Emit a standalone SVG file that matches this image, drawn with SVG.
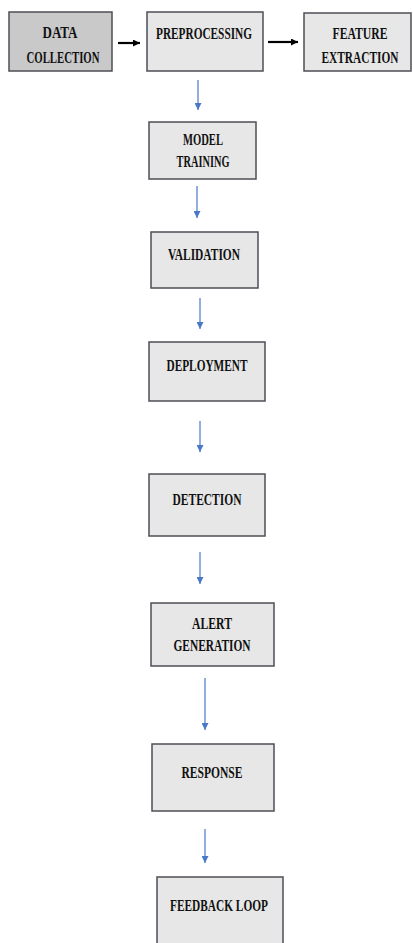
<svg xmlns="http://www.w3.org/2000/svg" width="413" height="943" viewBox="0 0 413 943">
<defs>
<style>
.box{fill:#e7e7e7;stroke:#4d4f55;stroke-width:1.5}
.dark{fill:#c9c9c9}
.t{font-family:"Liberation Serif","Times New Roman",serif;font-weight:bold;font-size:17px;fill:#111;text-anchor:middle}
.blk{stroke:#000;stroke-width:2.2;fill:none}
.blu{stroke:#4a78c8;stroke-width:1.2;fill:none}
</style>
<marker id="hb" viewBox="0 0 10 10" refX="10" refY="5" markerWidth="7" markerHeight="7" markerUnits="userSpaceOnUse" orient="auto"><path d="M0,0 L10,5 L0,10 z" fill="#000"/></marker>
<marker id="hu" viewBox="0 0 10 10" refX="10" refY="5" markerWidth="8" markerHeight="7" markerUnits="userSpaceOnUse" orient="auto"><path d="M0,0 L10,5 L0,10 z" fill="#4a78c8"/></marker>
</defs>
<rect width="413" height="943" fill="#fff"/>
<g id="connectors">
<line class="blk" x1="118" y1="43" x2="140" y2="43" marker-end="url(#hb)"/>
<line class="blk" x1="268" y1="42" x2="298" y2="42" marker-end="url(#hb)"/>
<line class="blu" x1="198" y1="80" x2="198" y2="110" marker-end="url(#hu)"/>
<line class="blu" x1="197" y1="186" x2="197" y2="218" marker-end="url(#hu)"/>
<line class="blu" x1="200" y1="298" x2="200" y2="329" marker-end="url(#hu)"/>
<line class="blu" x1="200" y1="421" x2="200" y2="452" marker-end="url(#hu)"/>
<line class="blu" x1="200" y1="552" x2="200" y2="584" marker-end="url(#hu)"/>
<line class="blu" x1="205" y1="678" x2="205" y2="730" marker-end="url(#hu)"/>
<line class="blu" x1="205" y1="829" x2="205" y2="863" marker-end="url(#hu)"/>
</g>
<g id="data-collection">
<rect class="box dark" x="9" y="12" width="103" height="59"/>
<text class="t" x="60" y="38" textLength="35" lengthAdjust="spacingAndGlyphs">DATA</text>
<text class="t" x="63" y="63" textLength="73" lengthAdjust="spacingAndGlyphs">COLLECTION</text>
</g>
<g id="preprocessing">
<rect class="box" x="147" y="12" width="116" height="59"/>
<text class="t" x="204" y="39" textLength="96" lengthAdjust="spacingAndGlyphs">PREPROCESSING</text>
</g>
<g id="feature-extraction">
<rect class="box" x="304" y="13" width="107" height="58"/>
<text class="t" x="360" y="39" textLength="55" lengthAdjust="spacingAndGlyphs">FEATURE</text>
<text class="t" x="360" y="63" textLength="77" lengthAdjust="spacingAndGlyphs">EXTRACTION</text>
</g>
<g id="model-training">
<rect class="box" x="149" y="122" width="107" height="57"/>
<text class="t" x="203" y="145" textLength="40" lengthAdjust="spacingAndGlyphs">MODEL</text>
<text class="t" x="203" y="167" textLength="53" lengthAdjust="spacingAndGlyphs">TRAINING</text>
</g>
<g id="validation">
<rect class="box" x="151" y="232" width="107" height="56"/>
<text class="t" x="204" y="260" textLength="72" lengthAdjust="spacingAndGlyphs">VALIDATION</text>
</g>
<g id="deployment">
<rect class="box" x="149" y="342" width="116" height="59"/>
<text class="t" x="207" y="371" textLength="81" lengthAdjust="spacingAndGlyphs">DEPLOYMENT</text>
</g>
<g id="detection">
<rect class="box" x="149" y="474" width="116" height="62"/>
<text class="t" x="207" y="505" textLength="69" lengthAdjust="spacingAndGlyphs">DETECTION</text>
</g>
<g id="alert-generation">
<rect class="box" x="151" y="603" width="123" height="63"/>
<text class="t" x="212" y="629" textLength="40" lengthAdjust="spacingAndGlyphs">ALERT</text>
<text class="t" x="212" y="651" textLength="77" lengthAdjust="spacingAndGlyphs">GENERATION</text>
</g>
<g id="response">
<rect class="box" x="152" y="744" width="122" height="67"/>
<text class="t" x="212" y="778" textLength="61" lengthAdjust="spacingAndGlyphs">RESPONSE</text>
</g>
<g id="feedback-loop">
<rect class="box" x="157" y="877" width="126" height="70"/>
<text class="t" x="219" y="911" textLength="98" lengthAdjust="spacingAndGlyphs">FEEDBACK LOOP</text>
</g>
</svg>
